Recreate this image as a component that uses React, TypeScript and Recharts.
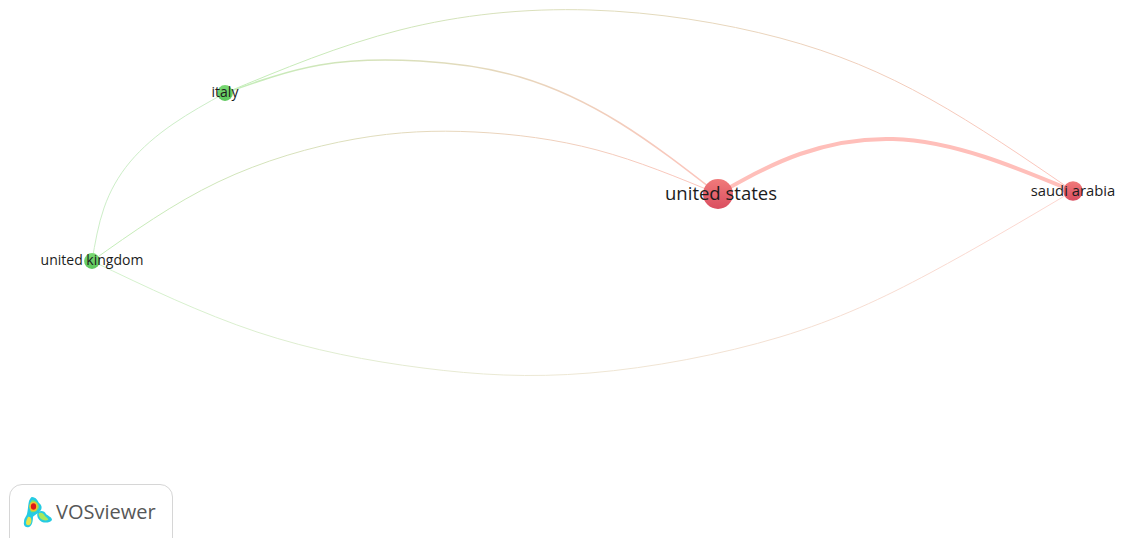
import { ComposedChart, Line, Scatter, XAxis, YAxis, ZAxis, Cell } from 'recharts'

const W = 1121
const H = 538

// node table, in picture units
const countries = ['united states', 'saudi arabia', 'italy', 'united kingdom']
const nodeX = [718, 1073, 225, 92]
const nodeY = [194, 191, 93, 261]
const nodeWeight = [6, 2, 1, 1]
const nodeCluster = ['red', 'red', 'green', 'green']

const nodes = countries.map((name, i) => ({
  name,
  x: nodeX[i],
  y: nodeY[i],
  weight: nodeWeight[i],
  cluster: nodeCluster[i],
}))

// links, points read off the arcs (roughly even spacing keeps the spline smooth)
const usSaudi = [
  { x: 718, y: 194 },
  { x: 800, y: 154 },
  { x: 893, y: 139 },
  { x: 985, y: 157 },
  { x: 1073, y: 191 },
]
const italyUs = [
  { x: 225, y: 93 },
  { x: 320, y: 65 },
  { x: 420, y: 61 },
  { x: 520, y: 77 },
  { x: 620, y: 123 },
  { x: 718, y: 194 },
]
const italySaudi = [
  { x: 225, y: 93 },
  { x: 400, y: 30 },
  { x: 590, y: 10 },
  { x: 780, y: 38 },
  { x: 930, y: 99 },
  { x: 1073, y: 191 },
]
const ukUs = [
  { x: 92, y: 261 },
  { x: 218, y: 182 },
  { x: 355, y: 139 },
  { x: 475, y: 132 },
  { x: 597, y: 150 },
  { x: 718, y: 194 },
]
const ukItaly = [
  { x: 92, y: 261 },
  { x: 104, y: 208 },
  { x: 130, y: 162 },
  { x: 173, y: 124 },
  { x: 225, y: 93 },
]
const ukSaudi = [
  { x: 92, y: 261 },
  { x: 257, y: 332 },
  { x: 423, y: 368 },
  { x: 590, y: 373 },
  { x: 780, y: 337 },
  { x: 930, y: 273 },
  { x: 1073, y: 191 },
]

const fontFamily = '"Open Sans", sans-serif'

function labelSize(name: string) {
  if (name === 'united states') return 18.5
  if (name === 'saudi arabia') return 14.8
  return 14
}

// circle and its label, label goes on top
function NodeDot(props: any) {
  const { cx, cy, size, fill, payload } = props
  const name = payload?.name ?? props.name
  return (
    <g>
      <circle cx={cx} cy={cy} r={Math.sqrt(size / Math.PI)} fill={fill} stroke="none" />
      <text
        x={cx + (name === 'united states' ? 3 : 0)}
        y={cy - 0.5}
        dy="0.35em"
        textAnchor="middle"
        fontFamily={fontFamily}
        fontSize={labelSize(name)}
        fill="#1c1c1c"
        stroke="none"
      >
        {name}
      </text>
    </g>
  )
}

function Logo() {
  return (
    <svg width={32} height={34} viewBox="0 0 32 34" style={{ position: 'absolute', left: 13, top: 12 }}>
      <path d="M9 0 C13 0 15 4 16 6 C19 8 19 11 18 13 C15 17 11 18 10 20 C10 24 9 29 6 30 C3 31 0 29 1 25 C1 21 3 20 4 17 C5 13 5 8 6 4 C7 2 8 0 9 0 Z" fill="#25cbe2" />
      <path d="M15 15 C18 13 22 14 23 17 C25 19 29 20 29 23 C27 26 22 26 19 25 C15 23 13 18 15 15 Z" fill="#25cbe2" />
      <path d="M9 3 C13 3 16 7 16 10 C15 14 11 16 8 15 C6 12 6 6 9 3 Z" fill="#7fe06a" />
      <path d="M5 20 C8 19 9 23 8 26 C7 29 3 29 3 26 C3 24 4 22 5 20 Z" fill="#e4e44c" />
      <path d="M16 16 C19 15 21 17 22 19 C24 21 26 22 25 23 C22 24 19 23 17 21 C16 19 15 17 16 16 Z" fill="#a8e85c" />
      <ellipse cx={10.5} cy={9.5} rx={4.2} ry={4.8} fill="#f2c030" />
      <ellipse cx={10.5} cy={9.5} rx={2.6} ry={3.2} fill="#e01818" />
    </svg>
  )
}

export default function App() {
  return (
    <div style={{ position: 'absolute', left: 0, top: 0, width: W, height: H, overflow: 'hidden', background: '#fff' }}>
      <ComposedChart width={W} height={H} margin={{ top: 0, right: 0, bottom: 0, left: 0 }}>
        <defs>
          <linearGradient id="greenRed" x1="0" y1="0" x2="1" y2="0">
            <stop offset="0%" stopColor="#c2eeb8" />
            <stop offset="45%" stopColor="#e0dcbc" />
            <stop offset="100%" stopColor="#fdc4bc" />
          </linearGradient>
          <linearGradient id="greenRedPale" x1="0" y1="0" x2="1" y2="0">
            <stop offset="0%" stopColor="#d2f2cc" />
            <stop offset="45%" stopColor="#ece8d4" />
            <stop offset="100%" stopColor="#fdd6d0" />
          </linearGradient>
          <linearGradient id="redNode" x1="0" y1="0" x2="0" y2="1">
            <stop offset="0%" stopColor="#f07a7a" />
            <stop offset="100%" stopColor="#da4e60" />
          </linearGradient>
          <linearGradient id="greenNode" x1="0" y1="0" x2="0" y2="1">
            <stop offset="0%" stopColor="#7ad874" />
            <stop offset="100%" stopColor="#5cc75c" />
          </linearGradient>
        </defs>
        <XAxis type="number" dataKey="x" domain={[0, W]} hide />
        <YAxis type="number" dataKey="y" domain={[0, H]} reversed hide />
        <ZAxis type="number" dataKey="weight" range={[95, 708]} />

        <Line data={ukSaudi} dataKey="y" type="natural" stroke="url(#greenRedPale)" strokeWidth={1} dot={false} activeDot={false} isAnimationActive={false} />
        <Line data={ukItaly} dataKey="y" type="natural" stroke="#cdeec8" strokeWidth={1} dot={false} activeDot={false} isAnimationActive={false} />
        <Line data={ukUs} dataKey="y" type="natural" stroke="url(#greenRed)" strokeWidth={1} dot={false} activeDot={false} isAnimationActive={false} />
        <Line data={italySaudi} dataKey="y" type="natural" stroke="url(#greenRed)" strokeWidth={1} dot={false} activeDot={false} isAnimationActive={false} />
        <Line data={italyUs} dataKey="y" type="natural" stroke="url(#greenRed)" strokeWidth={1.5} dot={false} activeDot={false} isAnimationActive={false} />
        <Line data={usSaudi} dataKey="y" type="natural" stroke="#ffbfba" strokeWidth={4} dot={false} activeDot={false} isAnimationActive={false} />

        <Scatter data={nodes} shape={<NodeDot />} isAnimationActive={false}>
          {nodes.map((n) => (
            <Cell key={n.name} fill={n.cluster === 'red' ? 'url(#redNode)' : 'url(#greenNode)'} />
          ))}
        </Scatter>
      </ComposedChart>

      <div
        style={{
          position: 'absolute',
          left: 9,
          top: 484,
          width: 162,
          height: 70,
          border: '1.5px solid #d6d6d6',
          borderRadius: 13,
          boxSizing: 'content-box',
        }}
      >
        <Logo />
        <span
          style={{
            position: 'absolute',
            left: 46,
            top: 13,
            fontFamily,
            fontSize: 20,
            color: '#575757',
            lineHeight: '27px',
          }}
        >
          VOSviewer
        </span>
      </div>
    </div>
  )
}
